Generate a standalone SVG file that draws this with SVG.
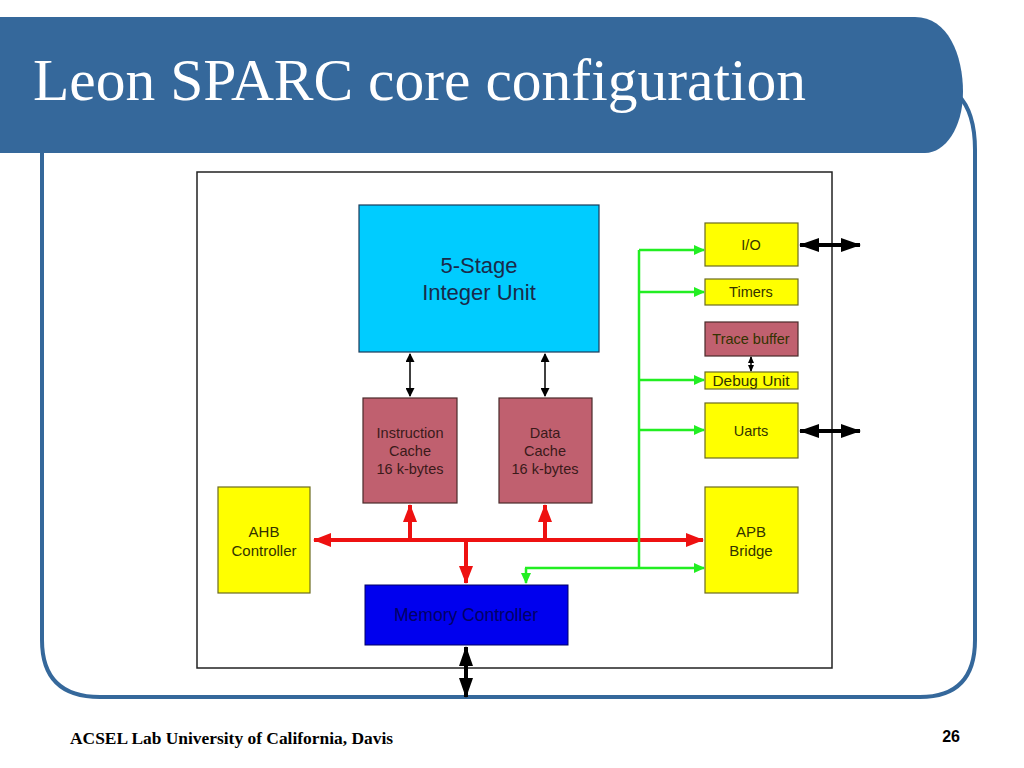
<svg xmlns="http://www.w3.org/2000/svg" width="1024" height="768" viewBox="0 0 1024 768">
<style>
.sans{font-family:"Liberation Sans",Arial,sans-serif;text-anchor:middle}
.blk{fill:#ffff00;stroke:#6b6b20;stroke-width:1.2}
.mauve{fill:#c0606f;stroke:#4a2a2a;stroke-width:1.2}
.t13{font-size:14.5px;fill:#3a1a1a}
.t14{font-size:15px;fill:#333300}
.tr{font-size:14.5px;fill:#333300}
.red{stroke:#ee1111;stroke-width:4;fill:none}
.grn{stroke:#22ee22;stroke-width:2.5;fill:none}
.bk{stroke:#000;stroke-width:4;fill:none}
.bkt{stroke:#000;stroke-width:1.5;fill:none}
</style>
<defs>
<marker id="mr" markerUnits="userSpaceOnUse" markerWidth="18" markerHeight="14" refX="17" refY="7" orient="auto-start-reverse"><path d="M0,0 L18,7 L0,14 Z" fill="#ee1111"/></marker>
<marker id="mg" markerUnits="userSpaceOnUse" markerWidth="11" markerHeight="10" refX="10" refY="5" orient="auto-start-reverse"><path d="M0,0 L11,5 L0,10 Z" fill="#22ee22"/></marker>
<marker id="mb" markerUnits="userSpaceOnUse" markerWidth="20" markerHeight="14" refX="19" refY="7" orient="auto-start-reverse"><path d="M0,0 L20,7 L0,14 Z" fill="#000"/></marker>
<marker id="mbs" markerUnits="userSpaceOnUse" markerWidth="9" markerHeight="9" refX="8" refY="4.5" orient="auto-start-reverse"><path d="M0,0 L9,4.5 L0,9 Z" fill="#000"/></marker>
<marker id="mbt" markerUnits="userSpaceOnUse" markerWidth="7" markerHeight="6" refX="6" refY="3" orient="auto-start-reverse"><path d="M0,0 L7,3 L0,6 Z" fill="#000"/></marker>
</defs>
<rect width="1024" height="768" fill="#fff"/>
<!-- slide frame -->
<path d="M42,150 V640 Q42,697 100,697 H920 Q975,697 975,640 V150 Q975,112 958,95" fill="none" stroke="#35689b" stroke-width="4"/>
<path d="M0,17 H915 C948,17 963,55 963,92 C963,128 945,153 925,153 H0 Z" fill="#35689b"/>
<text x="33" y="100" font-family="'Liberation Serif','Times New Roman',serif" font-size="60" fill="#fff" textLength="773" lengthAdjust="spacingAndGlyphs">Leon SPARC core configuration</text>
<!-- diagram frame -->
<rect x="197" y="172" width="635" height="496" fill="#fff" stroke="#222" stroke-width="1.5"/>
<!-- connectors -->
<g id="connectors">
<path class="red" d="M314,540 H703" marker-start="url(#mr)" marker-end="url(#mr)"/>
<path class="red" d="M410,540 V505" marker-end="url(#mr)"/>
<path class="red" d="M545,540 V505" marker-end="url(#mr)"/>
<path class="red" d="M466,540 V583" marker-end="url(#mr)"/>
<path class="grn" d="M639,250 V568"/>
<path class="grn" d="M639,250 H704" marker-end="url(#mg)"/>
<path class="grn" d="M639,292 H704" marker-end="url(#mg)"/>
<path class="grn" d="M639,380 H704" marker-end="url(#mg)"/>
<path class="grn" d="M639,430 H704" marker-end="url(#mg)"/>
<path class="grn" d="M525,568 H704" marker-end="url(#mg)"/>
<path class="grn" d="M526,568 V583" marker-end="url(#mg)"/>
<path class="bkt" d="M410,354 V396" marker-start="url(#mbs)" marker-end="url(#mbs)"/>
<path class="bkt" d="M545,354 V396" marker-start="url(#mbs)" marker-end="url(#mbs)"/>
<path class="bkt" d="M751,357 V371" marker-start="url(#mbt)" marker-end="url(#mbt)"/>
<path class="bk" d="M800,245 H860" marker-start="url(#mb)" marker-end="url(#mb)"/>
<path class="bk" d="M800,431 H860" marker-start="url(#mb)" marker-end="url(#mb)"/>
<path class="bk" d="M466,647 V697" marker-start="url(#mb)" marker-end="url(#mb)"/>
</g>
<!-- nodes -->
<g id="integer-unit">
<rect x="359" y="205" width="240" height="147" fill="#00ccff" stroke="#1a3a5a" stroke-width="1.2"/>
<text class="sans" x="479" y="273" font-size="22" fill="#1a2a4a">5-Stage</text>
<text class="sans" x="479" y="300" font-size="22" fill="#1a2a4a">Integer Unit</text>
</g>
<g id="instruction-cache">
<rect class="mauve" x="363" y="398" width="94" height="105"/>
<text class="sans t13" x="410" y="438">Instruction</text>
<text class="sans t13" x="410" y="456">Cache</text>
<text class="sans t13" x="410" y="474">16 k-bytes</text>
</g>
<g id="data-cache">
<rect class="mauve" x="499" y="398" width="93" height="105"/>
<text class="sans t13" x="545" y="438">Data</text>
<text class="sans t13" x="545" y="456">Cache</text>
<text class="sans t13" x="545" y="474">16 k-bytes</text>
</g>
<g id="ahb-controller">
<rect class="blk" x="218" y="487" width="92" height="106"/>
<text class="sans t14" x="264" y="537">AHB</text>
<text class="sans t14" x="264" y="556">Controller</text>
</g>
<g id="apb-bridge">
<rect class="blk" x="705" y="487" width="93" height="106"/>
<text class="sans t14" x="751" y="537">APB</text>
<text class="sans t14" x="751" y="556">Bridge</text>
</g>
<g id="memory-controller">
<rect x="365" y="585" width="203" height="60" fill="#0000ee" stroke="#000066" stroke-width="1"/>
<text class="sans" x="466" y="621" font-size="17.5" fill="#000066">Memory Controller</text>
</g>
<g id="io">
<rect class="blk" x="705" y="223" width="93" height="43"/>
<text class="sans tr" x="751" y="250">I/O</text>
</g>
<g id="timers">
<rect class="blk" x="705" y="279" width="93" height="26"/>
<text class="sans tr" x="751" y="297">Timers</text>
</g>
<g id="trace-buffer">
<rect class="mauve" x="705" y="322" width="93" height="34"/>
<text class="sans tr" x="751" y="344" fill="#3a1a1a">Trace buffer</text>
</g>
<g id="debug-unit">
<rect class="blk" x="705" y="372" width="93" height="17"/>
<text class="sans" x="751" y="386" font-size="15" fill="#333300" textLength="77" lengthAdjust="spacingAndGlyphs">Debug Unit</text>
</g>
<g id="uarts">
<rect class="blk" x="705" y="403" width="93" height="55"/>
<text class="sans tr" x="751" y="436">Uarts</text>
</g>
<!-- footer -->
<text x="70" y="744" font-family="'Liberation Serif','Times New Roman',serif" font-size="16" font-weight="bold" fill="#000" textLength="323" lengthAdjust="spacingAndGlyphs">ACSEL Lab University of California, Davis</text>
<text x="960" y="742" font-family="'Liberation Sans',Arial,sans-serif" font-size="16" font-weight="bold" fill="#000" text-anchor="end">26</text>
</svg>
